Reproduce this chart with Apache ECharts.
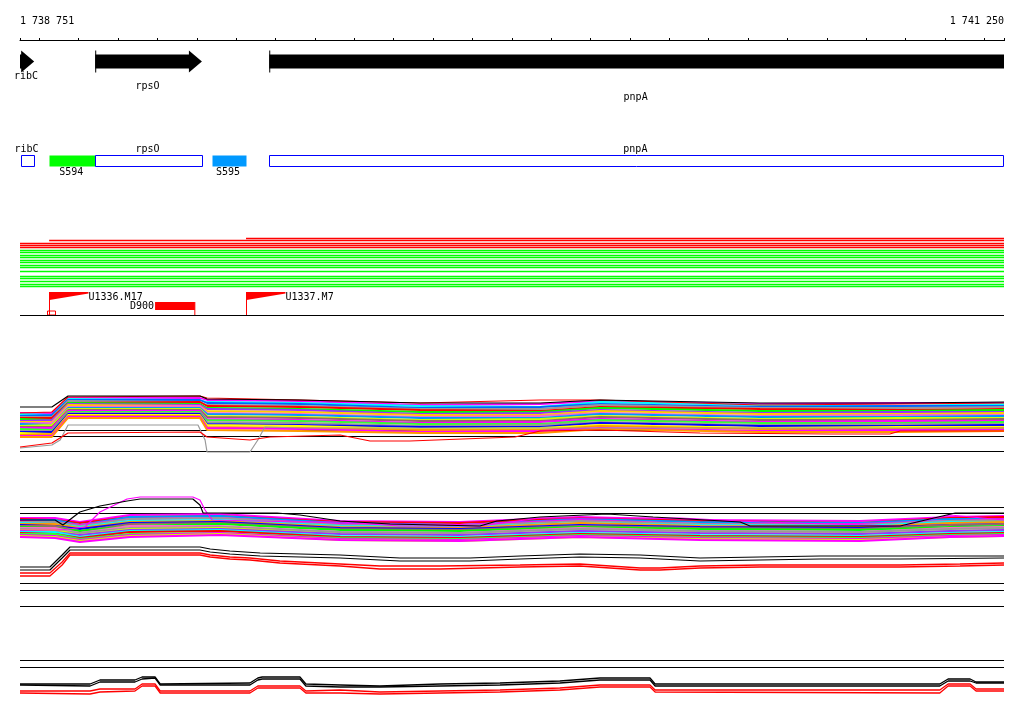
<!DOCTYPE html>
<html><head><meta charset="utf-8">
<script src="https://cdn.jsdelivr.net/npm/echarts@6/dist/echarts.min.js"></script>
<style>html,body{margin:0;padding:0;background:#fff}#c{width:1024px;height:714px}</style>
</head><body><div id="c"></div>
<script>
// ---------------- DATA ----------------
const START = 1738751, END = 1741250;
const rulerTicks = [1738751, 1738800, 1738900, 1739000, 1739100, 1739200, 1739300, 1739400, 1739500,
  1739600, 1739700, 1739800, 1739900, 1740000, 1740100, 1740200, 1740300, 1740400, 1740500,
  1740600, 1740700, 1740800, 1740900, 1741000, 1741100, 1741200, 1741250];
const rulerLabels = [1738751, 1741250];

// genes (arrow track)
const geneNames = ['ribC', 'rpsO', 'pnpA'];
const geneStart = [1738700, 1738942, 1739384];
const geneEnd = [1738787, 1739213, 1741500];

// feature boxes track
const featNames = ['ribC', 'S594', 'rpsO', 'S595', 'pnpA'];
const featStart = [1738753, 1738825, 1738942, 1739239, 1739384];
const featEnd = [1738787, 1738942, 1739213, 1739325, 1741500];
const featKind = ['gene', 'seg', 'gene', 'seg2', 'gene'];

// horizontal lines track
const hlStart = [1739325, 1738825, 1738751, 1738751, 1738751, 1738751, 1738751, 1738751, 1738751, 1738751,
  1738751, 1738751, 1738751, 1738751, 1738751, 1738751, 1738751, 1738751, 1738751];
const hlEnd = [1741250, 1741250, 1741250, 1741250, 1741250, 1741250, 1741250, 1741250, 1741250, 1741250,
  1741250, 1741250, 1741250, 1741250, 1741250, 1741250, 1741250, 1741250, 1741250];
const hlLevel = [2.5, 4.5, 7.5, 9.5, 11.5, 14.5, 16.5, 19.5, 21.5, 24.5, 26.5, 29.5, 31.5, 35.5, 40.5, 42.5, 45.5, 48.5, 50.5];
const hlType = ['r', 'r', 'r', 'r', 'r', 'g', 'g', 'g', 'g', 'g', 'g', 'g', 'g', 'g', 'g', 'g', 'g', 'g', 'g'];

// markers track
const flagNames = ['U1336.M17', 'U1337.M7'];
const flagPos = [1738825, 1739325];
const delNames = ['D900'];
const delStart = [1739094];
const delEnd = [1739195];
const siteStart = [1738820];
const siteEnd = [1738840];

// profile 1
const p1X = [1738751, 1738832, 1738873, 1739208, 1739226, 1739462, 1739767, 1740072, 1740224, 1740630, 1740986, 1741250];
const p1Band = [
  [42, 42, 57, 57, 55, 54, 50, 51, 54, 51, 52, 52],
  [41, 40, 56, 55, 53, 52, 49, 48, 53, 50, 49, 51],
  [39, 40, 55, 55, 52, 51, 47, 48, 51, 48, 49, 49],
  [38, 38, 54, 53, 50, 49, 46, 46, 50, 47, 47, 48],
  [37, 37, 52, 53, 49, 48, 45, 44, 48, 46, 45, 46],
  [36, 35, 52, 51, 47, 46, 43, 43, 47, 44, 44, 45],
  [34, 35, 51, 50, 46, 45, 41, 42, 45, 42, 43, 43],
  [33, 33, 50, 49, 44, 43, 40, 40, 44, 41, 41, 42],
  [32, 32, 48, 49, 42, 41, 38, 39, 42, 39, 40, 40],
  [31, 30, 47, 47, 41, 40, 37, 37, 41, 38, 38, 39],
  [29, 30, 46, 46, 39, 38, 35, 36, 39, 36, 37, 37],
  [28, 28, 45, 45, 38, 37, 34, 34, 38, 35, 35, 36],
  [27, 27, 44, 44, 36, 35, 32, 33, 36, 33, 34, 34],
  [26, 25, 43, 43, 35, 34, 31, 31, 35, 32, 32, 33],
  [24, 24, 42, 42, 33, 32, 29, 30, 33, 30, 31, 31],
  [23, 23, 41, 41, 31, 30, 28, 28, 32, 29, 29, 30],
  [22, 21, 40, 40, 30, 29, 26, 27, 30, 27, 28, 28],
  [20, 21, 39, 39, 28, 27, 25, 25, 29, 26, 26, 27],
  [19, 19, 38, 38, 27, 26, 23, 24, 27, 24, 25, 25],
  [18, 18, 37, 37, 25, 24, 22, 22, 26, 23, 23, 24]
];
const p1Black = [48, 48, 59, 59, 56, 55, 52, 52, 55, 52, 52, 53];
const p1RedTop = [42, 43, 58, 59, 57, 55, 52, 55, 55, 50, 51, 52];
const p1RedLowX = [1738751, 1738832, 1738873, 1739208, 1739226, 1739335, 1739386, 1739564, 1739640, 1739741, 1740008, 1740072, 1740224, 1740478, 1740808, 1740960, 1740986, 1741250];
const p1RedLow = [8, 12, 22, 23, 18, 15, 18, 20, 14, 14, 18, 24, 25, 22, 21, 21, 24, 24];
const p1GrayX = [1738751, 1738832, 1738853, 1738873, 1739203, 1739221, 1739226, 1739335, 1739355, 1739373, 1739462, 1741250];
const p1Gray = [7, 10, 15, 30, 30, 15, 3, 3, 15, 28, 27, 27];
const p1Refs = [24.5, 18.5, 3.5];

// profile 2
const p2X = [1738751, 1738840, 1738903, 1739030, 1739259, 1739564, 1739868, 1740173, 1740478, 1740884, 1741113, 1741250];
const p2Band = [
  [92, 92, 88, 95, 96, 89, 88, 93, 90, 89, 93, 94],
  [91, 90, 87, 93, 94, 88, 87, 92, 89, 87, 92, 93],
  [90, 90, 85, 93, 94, 87, 85, 91, 88, 87, 91, 91],
  [89, 88, 85, 91, 92, 86, 85, 90, 86, 86, 89, 91],
  [88, 88, 84, 91, 92, 85, 84, 89, 86, 85, 89, 90],
  [87, 86, 83, 89, 90, 84, 83, 87, 85, 84, 88, 88],
  [86, 86, 82, 88, 89, 83, 82, 87, 84, 83, 87, 88],
  [85, 84, 81, 87, 88, 82, 81, 85, 83, 82, 85, 86],
  [84, 84, 79, 86, 87, 81, 80, 84, 82, 81, 85, 86],
  [83, 82, 79, 84, 86, 80, 79, 83, 81, 80, 83, 84],
  [82, 82, 77, 84, 84, 78, 77, 82, 79, 78, 82, 83],
  [81, 80, 77, 82, 83, 78, 77, 81, 79, 78, 81, 82],
  [80, 80, 75, 81, 82, 76, 75, 79, 77, 76, 79, 80],
  [79, 78, 75, 80, 81, 76, 75, 79, 77, 76, 79, 80],
  [78, 78, 73, 79, 80, 74, 73, 77, 75, 74, 77, 78],
  [77, 76, 72, 78, 79, 73, 72, 76, 74, 73, 76, 77],
  [76, 76, 71, 76, 77, 72, 71, 75, 73, 72, 75, 76],
  [75, 74, 70, 75, 77, 71, 70, 74, 72, 71, 74, 75],
  [74, 73, 69, 74, 76, 70, 69, 73, 71, 70, 73, 74],
  [73, 72, 68, 73, 75, 70, 69, 73, 70, 69, 73, 74]
];
const p2ArcX = [1738751, 1738840, 1738860, 1738903, 1738954, 1739023, 1739056, 1739190, 1739208, 1739216, 1739404, 1739462,
  1739564, 1739691, 1739919, 1739962, 1740072, 1740242, 1740359, 1740580, 1740605, 1740986, 1741126, 1741250];
const p2Arc = [90, 90, 85, 98, 104, 109, 111, 111, 105, 97, 97, 95, 89, 86, 84, 89, 93, 96, 93, 88, 84, 84, 97, 97];
const p2MagX = [1738751, 1738853, 1738916, 1738954, 1739023, 1739056, 1739190, 1739208, 1739221, 1739239, 1739462, 1739564,
  1739716, 1739919, 1740072, 1740427, 1740630, 1740986, 1741113, 1741250];
const p2Mag = [80, 80, 83, 98, 111, 113, 113, 110, 100, 90, 88, 88, 84, 84, 92, 92, 88, 84, 95, 90];
const p2BlkX = [1738751, 1738827, 1738858, 1738878, 1739208, 1739234, 1739284, 1739361, 1739564, 1739716, 1739894, 1740021,
  1740173, 1740326, 1740478, 1740630, 1740783, 1740986, 1741250];
const p2BlkA = [43, 43, 55, 63, 63, 61, 59, 57, 55, 52, 52, 54, 56, 55, 52, 53, 54, 54, 54];
const p2BlkB = [40, 40, 52, 60, 60, 58, 56, 54, 52, 49, 49, 51, 53, 52, 49, 50, 51, 51, 52];
const p2RedX = [1738751, 1738827, 1738858, 1738878, 1739208, 1739234, 1739284, 1739335, 1739411, 1739564, 1739665, 1739818,
  1740021, 1740173, 1740326, 1740376, 1740478, 1740630, 1740986, 1741138, 1741250];
const p2RedA = [37, 37, 48, 57, 57, 55, 53, 52, 49, 46, 44, 44, 45, 46, 42, 42, 44, 45, 45, 46, 47];
const p2RedB = [34, 34, 45, 55, 55, 53, 51, 50, 47, 44, 41, 41, 43, 44, 40, 40, 42, 43, 43, 44, 45];
const p2Refs = [102.5, 96.5, 26.5, 19.5, 3.5];

// profile 3
const p3X = [1738751, 1738929, 1738954, 1739043, 1739061, 1739094, 1739107, 1739335, 1739355, 1739366, 1739462, 1739477,
  1739564, 1739665, 1739818, 1739970, 1740122, 1740224, 1740351, 1740364, 1741087, 1741108, 1741164, 1741179, 1741250];
const p3BlkA = [16, 16, 20, 20, 23, 23, 16, 17, 22, 23, 23, 16, 15, 14, 16, 17, 19, 22, 22, 16, 16, 21, 21, 18, 18];
const p3BlkB = [15, 14, 18, 18, 21, 22, 15, 15, 20, 21, 21, 14, 13, 13, 14, 15, 17, 20, 20, 14, 14, 19, 19, 17, 17];
const p3RedA = [9, 9, 11, 11, 16, 16, 9, 9, 14, 14, 14, 9, 10, 8, 9, 10, 12, 15, 15, 10, 10, 16, 16, 11, 11];
const p3RedB = [7, 6, 8, 9, 14, 14, 7, 7, 12, 12, 12, 7, 7, 6, 7, 8, 10, 13, 13, 8, 7, 14, 14, 9, 9];
const p3Refs = [39.5, 32.5];

// ---------------- STYLE ----------------
const FONT = '10px "DejaVu Sans Mono", monospace';
const band1Colors = ['#ff00ff', '#00ffff', '#0066ff', '#999999', '#ff0000', '#00ff00', '#9933ff', '#ffcc00', '#ff66cc', '#0099ff',
  '#ccff00', '#996666', '#ff00ff', '#33ff33', '#999999', '#0000ff', '#ffff00', '#ff9900', '#ff00ff', '#ff9900'];
const band2Colors = ['#ff00ff', '#ff0000', '#0099ff', '#ff00ff', '#999999', '#00ffff', '#ff9900', '#0000ff', '#996666', '#00ff00',
  '#ff66cc', '#999999', '#ccff00', '#9933ff', '#00ffff', '#ff0000', '#33ff33', '#ff00ff', '#ccff00', '#ff00ff'];
const geneLabelDy = [14.5, 24.5, 36];
const featStyle = {
  gene: { fill: '#ffffff', stroke: '#0000ff' },
  seg: { fill: '#00ff00', stroke: null },
  seg2: { fill: '#0099ff', stroke: null }
};
const hlColor = { r: '#ff0000', g: '#00ff00' };

// ---------------- CHART ----------------
const chart = echarts.init(document.getElementById('c'), null, { renderer: 'canvas' });
const L = 20, W = 984;
const grids = [
  { left: L, width: W, top: 38, height: 2 },
  { left: L, width: W, top: 50, height: 23 },
  { left: L, width: W, top: 150, height: 21 },
  { left: L, width: W, top: 236, height: 52 },
  { left: L, width: W, top: 290, height: 25.5 },
  { left: L, width: W, top: 380, height: 75 },
  { left: L, width: W, top: 490, height: 120 },
  { left: L, width: W, top: 640, height: 60 }
];
const fmt = v => String(v).replace(/\B(?=(\d{3})+(?!\d))/g, ' ');
const xAxes = [
  {
    type: 'value', gridIndex: 0, min: START, max: END, position: 'top',
    axisLine: { show: true, lineStyle: { color: '#000', width: 1 } },
    axisTick: { show: true, length: 2, customValues: rulerTicks, lineStyle: { color: '#000' } },
    axisLabel: {
      show: true, customValues: rulerLabels, formatter: fmt, margin: 12,
      color: '#000', fontFamily: 'DejaVu Sans Mono', fontSize: 10,
      alignMinLabel: 'left', alignMaxLabel: 'right'
    },
    splitLine: { show: false }
  },
  {
    type: 'value', gridIndex: 0, min: START, max: END, position: 'top',
    axisLine: { show: false },
    axisTick: { show: true, inside: true, length: 3, customValues: rulerTicks, lineStyle: { color: '#000' } },
    axisLabel: { show: false }, splitLine: { show: false }
  }
];
for (let g = 1; g < grids.length; g++) {
  xAxes.push({ type: 'value', gridIndex: g, min: START, max: END, show: false });
}
const yRanges = [[0, 1], [0, 1], [0, 1], [0, 52], [0, 1], [0, 75], [0, 120], [0, 60]];
const yAxes = yRanges.map((r, g) => ({ type: 'value', gridIndex: g, min: r[0], max: r[1], show: false, inverse: g === 3 }));
const xi = g => g + 1;

const series = [];

function clampX(params, x) {
  const cs = params.coordSys;
  return Math.max(cs.x, Math.min(cs.x + cs.width, x));
}
const txt = (text, x, y, align) => ({
  type: 'text', style: { text, x, y, fill: '#000', font: FONT, align, verticalAlign: 'middle', textAlign: align, textVerticalAlign: 'middle' }
});

// genes
series.push({
  type: 'custom', xAxisIndex: xi(1), yAxisIndex: 1, silent: true,
  data: geneNames.map((n, i) => [geneStart[i], geneEnd[i], i]),
  renderItem: (params, api) => {
    const a = api.coord([api.value(0), 0.5]), b = api.coord([api.value(1), 0.5]);
    const idx = api.value(2);
    const cs = params.coordSys;
    const cy = a[1];
    const x0 = clampX(params, a[0]);
    const head = 13;
    const children = [];
    const inside = b[0] <= cs.x + cs.width + 0.5;
    if (inside) {
      const hx = Math.max(x0, b[0] - head);
      children.push({ type: 'polygon', shape: { points: [[x0, cy - 7], [hx, cy - 7], [hx, cy - 11], [b[0], cy], [hx, cy + 11], [hx, cy + 7], [x0, cy + 7]] }, style: { fill: '#000' } });
    } else {
      children.push({ type: 'rect', shape: { x: x0, y: cy - 7, width: cs.x + cs.width - x0, height: 14 }, style: { fill: '#000' } });
    }
    if (a[0] >= cs.x) {
      children.push({ type: 'line', shape: { x1: a[0] + 0.5, y1: cy - 11, x2: a[0] + 0.5, y2: cy + 11 }, style: { stroke: '#000', lineWidth: 1 } });
    }
    const xr = Math.min(b[0], cs.x + cs.width);
    children.push(txt(geneNames[idx], (x0 + xr) / 2 - 1, cy + geneLabelDy[idx], 'center'));
    return { type: 'group', children };
  }
});

// features
series.push({
  type: 'custom', xAxisIndex: xi(2), yAxisIndex: 2, silent: true,
  data: featNames.map((n, i) => [featStart[i], featEnd[i], i]),
  renderItem: (params, api) => {
    const idx = api.value(2);
    const a = api.coord([api.value(0), 0.5]), b = api.coord([api.value(1), 0.5]);
    const cs = params.coordSys;
    const x0 = clampX(params, a[0]), x1 = Math.min(b[0], cs.x + cs.width - 0.5);
    const cy = a[1];
    const st = featStyle[featKind[idx]];
    const children = [{
      type: 'rect', shape: { x: Math.round(x0) + 0.5, y: cy - 5, width: Math.round(x1 - x0), height: 11 },
      style: { fill: st.fill, stroke: st.stroke || null, lineWidth: 1 }
    }];
    const above = featKind[idx] === 'gene';
    children.push(txt(featNames[idx], (x0 + x1) / 2 - 1, above ? cy - 11.5 : cy + 12, 'center'));
    return { type: 'group', children };
  }
});

// horizontal lines
series.push({
  type: 'custom', xAxisIndex: xi(3), yAxisIndex: 3, silent: true,
  data: hlLevel.map((lv, i) => [hlStart[i], hlEnd[i], lv, i]),
  renderItem: (params, api) => {
    const i = api.value(3);
    const a = api.coord([api.value(0), api.value(2)]), b = api.coord([api.value(1), api.value(2)]);
    return { type: 'line', shape: { x1: a[0], y1: a[1], x2: b[0], y2: b[1] }, style: { stroke: hlColor[hlType[i]], lineWidth: 1.4 } };
  }
});

// markers track
series.push({
  type: 'line', xAxisIndex: xi(4), yAxisIndex: 4, silent: true, symbol: 'none',
  data: [[START, 0], [END, 0]], lineStyle: { color: '#000', width: 1 }
});
series.push({
  type: 'custom', xAxisIndex: xi(4), yAxisIndex: 4, silent: true,
  data: flagNames.map((n, i) => [flagPos[i], i]),
  renderItem: (params, api) => {
    const p = api.coord([api.value(0), 0]);
    const x = Math.round(p[0]) + 0.5, base = p[1];
    const i = api.value(1);
    return {
      type: 'group', children: [
        { type: 'line', shape: { x1: x, y1: base, x2: x, y2: base - 23.5 }, style: { stroke: '#ff0000', lineWidth: 1 } },
        { type: 'polygon', shape: { points: [[x, base - 23.5], [x + 39, base - 23.5], [x + 39, base - 22], [x, base - 15.5]] }, style: { fill: '#ff0000' } },
        txt(flagNames[i], x + 39, base - 18, 'left')
      ]
    };
  }
});
series.push({
  type: 'custom', xAxisIndex: xi(4), yAxisIndex: 4, silent: true,
  data: delNames.map((n, i) => [delStart[i], delEnd[i], i]),
  renderItem: (params, api) => {
    const a = api.coord([api.value(0), 0]), b = api.coord([api.value(1), 0]);
    const base = a[1];
    const i = api.value(2);
    return {
      type: 'group', children: [
        { type: 'rect', shape: { x: a[0], y: base - 13.5, width: b[0] - a[0], height: 8 }, style: { fill: '#ff0000' } },
        { type: 'line', shape: { x1: b[0], y1: base - 13.5, x2: b[0], y2: base }, style: { stroke: '#ff0000', lineWidth: 1 } },
        txt(delNames[i], a[0] - 1, base - 9, 'right')
      ]
    };
  }
});
series.push({
  type: 'custom', xAxisIndex: xi(4), yAxisIndex: 4, silent: true,
  data: siteStart.map((s, i) => [s, siteEnd[i]]),
  renderItem: (params, api) => {
    const a = api.coord([api.value(0), 0]), b = api.coord([api.value(1), 0]);
    return { type: 'rect', shape: { x: Math.round(a[0]) + 0.5, y: a[1] - 4.5, width: Math.round(b[0] - a[0]), height: 4 }, style: { fill: null, stroke: '#ff0000', lineWidth: 1 } };
  }
});

// profile helpers
function lineS(g, xs, ys, color, width, z) {
  return {
    type: 'line', xAxisIndex: xi(g), yAxisIndex: g, silent: true, symbol: 'none', z: z || 2,
    data: xs.map((x, k) => [x, ys[k]]), lineStyle: { color, width }, animation: false
  };
}
function refS(g, v) { return lineS(g, [START, END], [v, v], '#000', 1, 1); }

// profile 1
p1Refs.forEach(v => series.push(refS(5, v)));
p1Band.forEach((ys, k) => series.push(lineS(5, p1X, ys, band1Colors[k], 1.8)));
series.push(lineS(5, p1GrayX, p1Gray, '#999999', 1.2, 3));
series.push(lineS(5, p1RedLowX, p1RedLow, '#ff0000', 1.2, 3));
series.push(lineS(5, p1X, p1RedTop, '#ff0000', 1.2, 3));
series.push(lineS(5, p1X, p1Black, '#000000', 1.2, 3));

// profile 2
p2Refs.forEach(v => series.push(refS(6, v)));
p2Band.forEach((ys, k) => series.push(lineS(6, p2X, ys, band2Colors[k], 1.8)));
series.push(lineS(6, p2MagX, p2Mag, '#ff00ff', 1.2, 3));
series.push(lineS(6, p2ArcX, p2Arc, '#000000', 1.2, 3));
series.push(lineS(6, p2BlkX, p2BlkA, '#000000', 1.2, 3));
series.push(lineS(6, p2BlkX, p2BlkB, '#000000', 1.2, 3));
series.push(lineS(6, p2RedX, p2RedA, '#ff0000', 1.3, 3));
series.push(lineS(6, p2RedX, p2RedB, '#ff0000', 1.3, 3));

// profile 3
p3Refs.forEach(v => series.push(refS(7, v)));
series.push(lineS(7, p3X, p3BlkA, '#000000', 1.3, 3));
series.push(lineS(7, p3X, p3BlkB, '#000000', 1.3, 3));
series.push(lineS(7, p3X, p3RedA, '#ff0000', 1.3, 3));
series.push(lineS(7, p3X, p3RedB, '#ff0000', 1.3, 3));

chart.setOption({
  backgroundColor: '#ffffff',
  animation: false,
  grid: grids,
  xAxis: xAxes,
  yAxis: yAxes,
  series
});
</script>
</body></html>
